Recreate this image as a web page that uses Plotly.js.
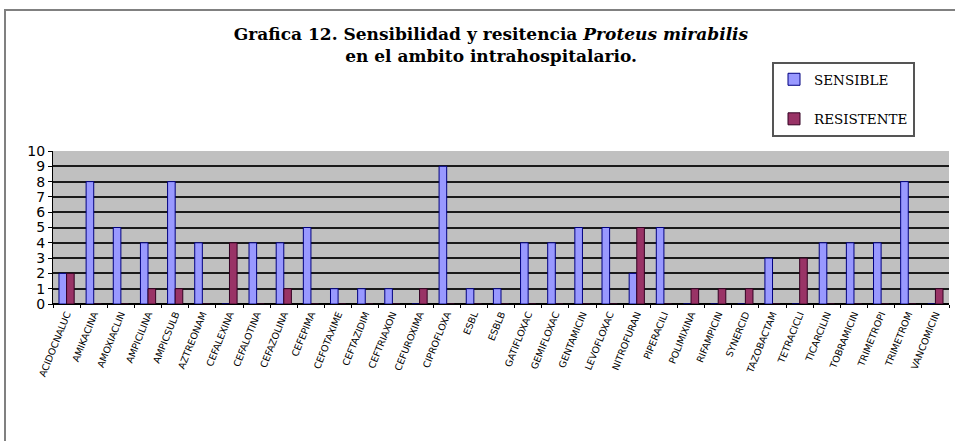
<!DOCTYPE html>
<html>
<head>
<meta charset="utf-8">
<script src="https://cdn.plot.ly/plotly-3.0.1.min.js"></script>
<style>html,body{margin:0;padding:0;background:#fff;}#chart{width:955px;height:441px;}</style>
</head>
<body>
<div id="chart"></div>
<script>
var categories = ["ACIDOCNALUC","AMIKACINA","AMOXIACLIN","AMPICILINA","AMPICSULB","AZTREONAM","CEFALEXINA","CEFALOTINA","CEFAZOLINA","CEFEPIMA","CEFOTAXIME","CEFTAZIDIM","CEFTRIAXON","CEFUROXIMA","CIPROFLOXA","ESBL","ESBLB","GATIFLOXAC","GEMIFLOXAC","GENTAMICIN","LEVOFLOXAC","NITROFURAN","PIPERACILI","POLIMIXINA","RIFAMPICIN","SYNERCID","TAZOBACTAM","TETRACICLI","TICARCILIN","TOBRAMICIN","TRIMETROPI","TRIMETROM","VANCOMICIN"];
var sensible = [2,8,5,4,8,4,0,4,4,5,1,1,1,0,9,1,1,4,4,5,5,2,5,0,0,0,3,0,4,4,4,8,0];
var resistente = [2,0,0,1,1,0,4,0,1,0,0,0,0,1,0,0,0,0,0,0,0,5,0,1,1,1,0,3,0,0,0,0,1];
var yTicks = [0,1,2,3,4,5,6,7,8,9,10];

var L = 53, R = 949, T = 151, B = 304;
var W = R - L, H = B - T;
function px(x){ return (x - L) / W; }
function py(y){ return (B - y) / H; }

var traces = [
  {type:"bar", name:"SENSIBLE", x:categories, y:sensible, legendgroup:"a",
   marker:{color:"#9999FF", line:{color:"#000080", width:1}}},
  {type:"bar", name:"RESISTENTE", x:categories, y:resistente, legendgroup:"b",
   marker:{color:"#993366", line:{color:"#330022", width:1}}}
];

var layout = {
  width:955, height:441,
  margin:{l:L, r:955-R, t:T, b:441-B, pad:0},
  paper_bgcolor:"#ffffff",
  plot_bgcolor:"#c0c0c0",
  barmode:"group",
  bargap:0.44,
  bargroupgap:0,
  showlegend:true,
  title:{
    text:"<b>Grafica 12. Sensibilidad y resitencia <i>Proteus mirabilis</i><br>en el ambito intrahospitalario.</b>",
    font:{family:"DejaVu Serif", size:17, color:"#000"},
    xref:"container", x:491/955, xanchor:"center",
    yref:"container", y:1-40/441, yanchor:"top"
  },
  legend:{
    x:px(772), xanchor:"left", y:py(62), yanchor:"top",
    bgcolor:"#ffffff", bordercolor:"#555555", borderwidth:2,
    font:{family:"DejaVu Serif", size:13.5, color:"#000"},
    tracegroupgap:19, traceorder:"grouped",
    itemwidth:30
  },
  xaxis:{
    type:"category",
    tickangle:-68,
    tickfont:{family:"DejaVu Sans", size:9.5, color:"#000"},
    ticks:"outside", ticklen:3, tickcolor:"#000", tickson:"boundaries",
    showline:true, linecolor:"#000", linewidth:1,
    showgrid:false, mirror:false, automargin:false
  },
  yaxis:{
    range:[0,10], tickvals:yTicks, ticktext:yTicks.map(String),
    tickfont:{family:"DejaVu Sans", size:14, color:"#000"},
    ticks:"outside", ticklen:4, tickcolor:"#000",
    showgrid:true, gridcolor:"#1a1a1a", gridwidth:2,
    zeroline:true, zerolinecolor:"#000", zerolinewidth:2,
    showline:true, linecolor:"#000", linewidth:1,
    automargin:false, fixedrange:true
  },
  shapes:[
    {type:"rect", xref:"paper", yref:"paper", x0:px(5), x1:px(962), y0:py(10), y1:py(460),
     line:{color:"#808080", width:2}, fillcolor:"rgba(0,0,0,0)", layer:"below"}
  ]
};

Plotly.newPlot("chart", traces, layout, {displayModeBar:false, staticPlot:true});
</script>
</body>
</html>
